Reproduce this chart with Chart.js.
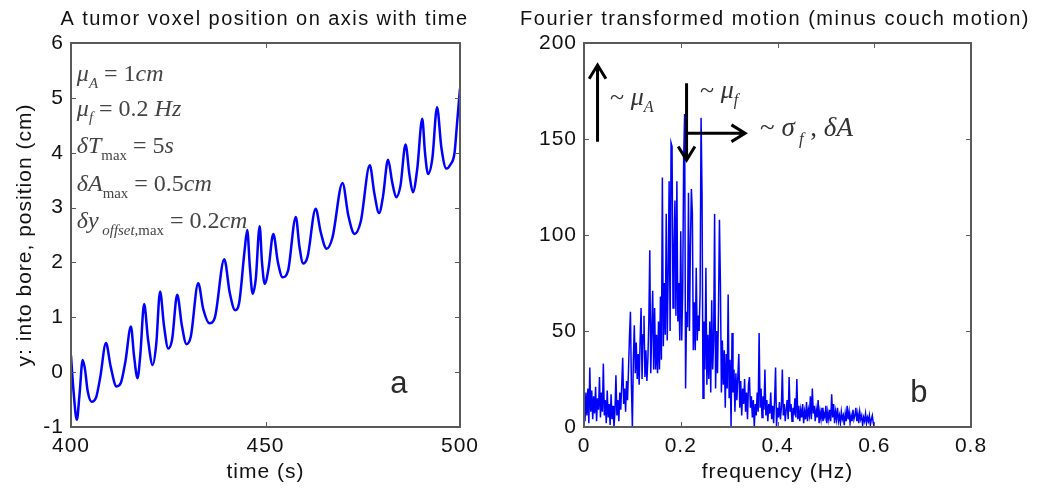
<!DOCTYPE html>
<html>
<head>
<meta charset="utf-8">
<script src="https://cdn.jsdelivr.net/npm/chart.js@4.4.1/dist/chart.umd.min.js"></script>
<style>
  body { margin: 0; background: #fff; }
  #wrap { position: relative; width: 1050px; height: 491px; }
  .panel { position: absolute; top: 0; }
</style>
</head>
<body>
<div id="wrap">
  <div class="panel" style="left:0"><canvas id="c1" width="520" height="491"></canvas></div>
  <div class="panel" style="left:520px"><canvas id="c2" width="530" height="491"></canvas></div>
</div>
<script>
// panel a: tumor voxel position vs time
const times = [
  400.0, 400.6, 401.5, 402.2, 403.0, 403.6, 404.3, 405.3, 406.5, 407.5,
  409.0, 410.2, 411.7, 412.8, 414.0, 415.4, 416.2, 417.1, 417.8, 418.8,
  419.8, 421.0, 421.9, 422.9, 423.9, 425.0, 426.0, 427.3, 428.5, 429.7,
  430.8, 432.7, 434.0, 435.6, 437.0, 439.4, 440.8, 442.2, 443.2, 444.6,
  445.3, 446.0, 446.7, 447.5, 448.5, 449.1, 449.8, 450.8, 452.0, 453.2,
  454.4, 455.8, 457.8, 458.7, 459.7, 460.8, 462.9, 464.2, 465.7, 467.2,
  469.8, 471.3, 472.9, 474.5, 476.8, 478.0, 479.2, 480.2, 481.5, 482.6,
  483.6, 484.7, 486.0, 487.0, 487.9, 489.0, 490.3, 491.0, 491.8, 492.9,
  494.1, 495.2, 496.5, 497.5, 498.6, 499.2, 500.0
];
const positions = [
  0.30, -0.30, -0.87, -0.40, 0.22, 0.05, -0.35, -0.54, -0.45, -0.10,
  0.53, 0.10, -0.26, -0.20, 0.20, 0.83, 0.30, -0.11, 0.30, 1.24,
  0.60, 0.13, 0.50, 1.47, 0.85, 0.43, 0.60, 1.41, 0.85, 0.51,
  0.65, 1.62, 1.15, 0.89, 1.00, 2.06, 1.45, 1.13, 1.25, 2.20,
  2.59, 1.90, 1.43, 1.70, 2.66, 2.00, 1.61, 1.90, 2.52, 2.00,
  1.73, 1.85, 2.83, 2.30, 1.98, 2.10, 2.98, 2.55, 2.25, 2.45,
  3.45, 2.85, 2.52, 2.75, 3.77, 3.25, 2.90, 3.20, 3.87, 3.45,
  3.19, 3.40, 4.15, 3.60, 3.28, 3.70, 4.62, 4.00, 3.61, 3.90,
  4.83, 4.10, 3.71, 3.78, 4.00, 4.50, 5.17
];

// panel b: Fourier magnitude, one value per 0.002 Hz bin from 0 to 0.6 Hz
const freqStep = 0.002;
const spectrum = [
  14, 3, 18, 6, 20, 2, 31, 8, 19, 4,
  16, 7, 21, 3, 15, 9, 26, 5, 18, 8,
  33, 6, 14, 2, 19, 5, 12, 1, 17, 4,
  11, 0, 8, 27, 6, 14, 3, 18, 9, 22,
  36, 12, 20, 8, 24, 14, 30, 47, 60, 22,
  0, 35, 53, 28, 44, 25, 38, 22, 45, 62,
  25, 48, 58, 26, 40, 24, 35, 55, 92, 28,
  50, 71, 30, 62, 30, 48, 28, 55, 30, 68,
  35, 130, 42, 75, 48, 111, 45, 80, 128, 50,
  148, 146, 62, 90, 118, 58, 128, 55, 75, 45,
  102, 45, 70, 139, 163, 20, 60, 52, 122, 50,
  95, 124, 111, 40, 65, 40, 83, 45, 58, 50,
  70, 161, 122, 15, 55, 30, 83, 22, 48, 25,
  55, 18, 66, 30, 45, 111, 20, 50, 28, 60,
  108, 75, 18, 45, 22, 40, 10, 38, 20, 69,
  15, 35, 0, 49, 18, 30, 8, 28, 14, 26,
  38, 10, 24, 6, 20, 12, 25, 8, 18, 4,
  22, 26, 10, 16, 5, 14, 0, 12, 6, 18,
  8, 49, 10, 20, 5, 16, 9, 30, 6, 14,
  3, 12, 7, 18, 4, 11, 2, 14, 31, 0,
  10, 5, 13, 4, 10, 30, 6, 12, 3, 9,
  14, 4, 26, 8, 12, 3, 10, 6, 15, 5,
  25, 4, 11, 3, 9, 5, 12, 2, 8, 4,
  13, 3, 9, 6, 16, 4, 20, 7, 11, 3,
  9, 5, 14, 2, 8, 4, 10, 3, 7, 5,
  11, 2, 8, 4, 9, 3, 17, 5, 12, 2,
  8, 4, 10, 3, 6, 2, 8, 4, 6, 1,
  7, 3, 11, 4, 8, 2, 6, 3, 9, 4,
  6, 10, 3, 7, 2, 8, 4, 6, 1, 5,
  3, 7, 2, 5, 3, 6, 1, 4, 6, 2,
  0
];
const freqs = spectrum.map((_, i) => +(i * freqStep).toFixed(3));

const sans = "'Liberation Sans', Arial, sans-serif";
const serif = "'Liberation Serif', 'Times New Roman', serif";

// MATLAB text is a bit spread out
const spacing = {
  id: 'spacing',
  beforeUpdate(chart) { chart.ctx.letterSpacing = '1px'; },
  beforeDraw(chart) { chart.ctx.letterSpacing = '1px'; }
};

// title centred over the plot box, stretched to the width seen in the picture
const boxTitle = {
  id: 'boxTitle',
  afterDraw(chart, args, opts) {
    const { ctx, chartArea: a } = chart;
    ctx.save();
    ctx.font = opts.size + 'px ' + sans;
    ctx.letterSpacing = '0px';
    const w0 = ctx.measureText(opts.text).width;
    const ls = (opts.width - w0) / opts.text.length;
    ctx.letterSpacing = ls + 'px';
    ctx.fillStyle = '#111';
    ctx.textAlign = 'left';
    ctx.textBaseline = 'middle';
    ctx.fillText(opts.text, (a.left + a.right) / 2 + opts.shift - opts.width / 2, 19);
    ctx.restore();
  }
};

// MATLAB-ish box with inward ticks on all four sides
const matlabBox = {
  id: 'matlabBox',
  afterDatasetsDraw(chart) {
    const { ctx, chartArea: a, scales } = chart;
    ctx.save();
    ctx.strokeStyle = '#5a5a5a';
    ctx.lineWidth = 1;
    ctx.beginPath();
    scales.x.ticks.forEach(t => {
      const px = Math.round(scales.x.getPixelForValue(t.value)) + 0.5;
      ctx.moveTo(px, a.bottom); ctx.lineTo(px, a.bottom - 5);
      ctx.moveTo(px, a.top); ctx.lineTo(px, a.top + 5);
    });
    scales.y.ticks.forEach(t => {
      const py = Math.round(scales.y.getPixelForValue(t.value)) + 0.5;
      ctx.moveTo(a.left, py); ctx.lineTo(a.left + 5, py);
      ctx.moveTo(a.right, py); ctx.lineTo(a.right - 5, py);
    });
    ctx.stroke();
    ctx.lineWidth = 2;
    ctx.strokeRect(a.left, a.top, a.width, a.height);
    ctx.restore();
  }
};

// draw a run of [text, style] pieces; style: 'i' italic, 'r' roman, 'si'/'sr' subscript
function drawMath(ctx, pieces, x, y, size, color) {
  ctx.save();
  ctx.letterSpacing = '0px';
  ctx.fillStyle = color;
  ctx.textBaseline = 'alphabetic';
  ctx.textAlign = 'left';
  let cx = x;
  pieces.forEach(([txt, st]) => {
    const sub = st[0] === 's';
    const ital = st.endsWith('i');
    const fs = sub ? size * 0.62 : size;
    ctx.font = (ital ? 'italic ' : '') + fs + 'px ' + serif;
    ctx.fillText(txt, cx, sub ? y + size * 0.28 : y);
    cx += ctx.measureText(txt).width;
  });
  ctx.restore();
}

function arrow(ctx, x1, y1, x2, y2) {
  const ang = Math.atan2(y2 - y1, x2 - x1);
  const h = 16;
  ctx.beginPath();
  ctx.moveTo(x1, y1); ctx.lineTo(x2, y2);
  ctx.moveTo(x2 - h * Math.cos(ang - 0.55), y2 - h * Math.sin(ang - 0.55));
  ctx.lineTo(x2, y2);
  ctx.lineTo(x2 - h * Math.cos(ang + 0.55), y2 - h * Math.sin(ang + 0.55));
  ctx.stroke();
}

function panelLetter(ctx, txt, x, y) {
  ctx.save();
  ctx.letterSpacing = '0px';
  ctx.fillStyle = '#2b2b2b';
  ctx.font = '31px ' + sans;
  ctx.textAlign = 'center';
  ctx.textBaseline = 'middle';
  ctx.fillText(txt, x, y);
  ctx.restore();
}

const notesA = {
  id: 'notesA',
  afterDraw(chart) {
    const { ctx, scales: { x, y } } = chart;
    const lx = x.getPixelForValue(401.5);
    const rows = [
      [[['μ', 'i'], ['A', 'si'], [' = 1', 'r'], ['cm', 'i']], 5.45],
      [[['μ', 'i'], ['f', 'si'], [' = 0.2 ', 'r'], ['Hz', 'i']], 4.82],
      [[['δT', 'i'], ['max', 'sr'], [' = 5', 'r'], ['s', 'i']], 4.14],
      [[['δA', 'i'], ['max', 'sr'], [' = 0.5', 'r'], ['cm', 'i']], 3.45],
      [[['δy', 'i'], [' offset', 'si'], [',max', 'sr'], [' = 0.2', 'r'], ['cm', 'i']], 2.77]
    ];
    rows.forEach(([p, v]) => drawMath(ctx, p, lx, y.getPixelForValue(v) + 8, 24, '#444'));
    panelLetter(ctx, 'a', x.getPixelForValue(484.3), y.getPixelForValue(-0.22));
  }
};

const notesB = {
  id: 'notesB',
  afterDraw(chart) {
    const { ctx, scales: { x, y } } = chart;
    ctx.save();
    ctx.strokeStyle = '#000';
    ctx.lineWidth = 3;
    arrow(ctx, x.getPixelForValue(0.028), y.getPixelForValue(148.6), x.getPixelForValue(0.028), y.getPixelForValue(188.5));
    arrow(ctx, x.getPixelForValue(0.212), y.getPixelForValue(179), x.getPixelForValue(0.212), y.getPixelForValue(139));
    arrow(ctx, x.getPixelForValue(0.212), y.getPixelForValue(153), x.getPixelForValue(0.333), y.getPixelForValue(153));
    ctx.restore();
    drawMath(ctx, [['~ ', 'r'], ['μ', 'i'], ['A', 'si']], x.getPixelForValue(0.054), y.getPixelForValue(172) + 8, 26, '#333');
    drawMath(ctx, [['~ ', 'r'], ['μ', 'i'], ['f', 'si']], x.getPixelForValue(0.240), y.getPixelForValue(175.5) + 8, 26, '#333');
    drawMath(ctx, [['~ ', 'r'], ['σ', 'i'], [' f', 'si'], [' , ', 'r'], ['δA', 'i']], x.getPixelForValue(0.364), y.getPixelForValue(155.7) + 8, 27, '#333');
    panelLetter(ctx, 'b', x.getPixelForValue(0.692), y.getPixelForValue(17.7));
  }
};

function axis(min, max, step, title, titlePad, fitSize, horizontal) {
  return {
    type: 'linear',
    min: min, max: max,
    grid: { display: false, drawTicks: false },
    border: { display: false },
    ticks: {
      stepSize: step, padding: 7, color: '#111',
      font: { family: sans, size: 21 },
      maxRotation: 0, autoSkip: false
    },
    title: {
      display: !!title, text: title, color: '#111',
      font: { family: sans, size: 21 },
      padding: titlePad
    },
    afterFit(s) { if (horizontal) s.height = fitSize; else s.width = fitSize; }
  };
}

Chart.defaults.font.family = sans;

new Chart(document.getElementById('c1'), {
  type: 'line',
  data: {
    datasets: [{
      data: times.map((t, i) => ({ x: t, y: positions[i] })),
      borderColor: '#0000ff',
      borderWidth: 2.5,
      pointRadius: 0,
      cubicInterpolationMode: 'monotone',
      fill: false
    }]
  },
  options: {
    responsive: false,
    animation: false,
    layout: { padding: { left: 0, right: 60, top: 43, bottom: 0 } },
    plugins: {
      legend: { display: false },
      tooltip: { enabled: false },
      title: { display: false },
      boxTitle: { text: 'A tumor voxel position on axis with time', size: 20, width: 408, shift: -1 }
    },
    scales: {
      x: axis(400, 500, 50, 'time (s)', { top: 0, bottom: 6.4 }, 64, true),
      y: axis(-1, 6, 1, 'y: into bore, position (cm)', { top: 12.4, bottom: 0 }, 71, false)
    }
  },
  plugins: [spacing, matlabBox, notesA, boxTitle]
});

new Chart(document.getElementById('c2'), {
  type: 'line',
  data: {
    datasets: [{
      data: freqs.map((f, i) => ({ x: f, y: spectrum[i] })),
      borderColor: '#0000ff',
      borderWidth: 1.5,
      pointRadius: 0,
      tension: 0,
      fill: false
    }]
  },
  options: {
    responsive: false,
    animation: false,
    layout: { padding: { left: 0, right: 79, top: 43, bottom: 0 } },
    plugins: {
      legend: { display: false },
      tooltip: { enabled: false },
      title: { display: false },
      boxTitle: { text: 'Fourier transformed motion (minus couch motion)', size: 20, width: 510, shift: -2.5 }
    },
    scales: {
      x: axis(0, 0.8, 0.2, 'frequency (Hz)', { top: 0, bottom: 6.4 }, 64, true),
      y: axis(0, 200, 50, '', 0, 64, false)
    }
  },
  plugins: [spacing, matlabBox, notesB, boxTitle]
});
</script>
</body>
</html>
